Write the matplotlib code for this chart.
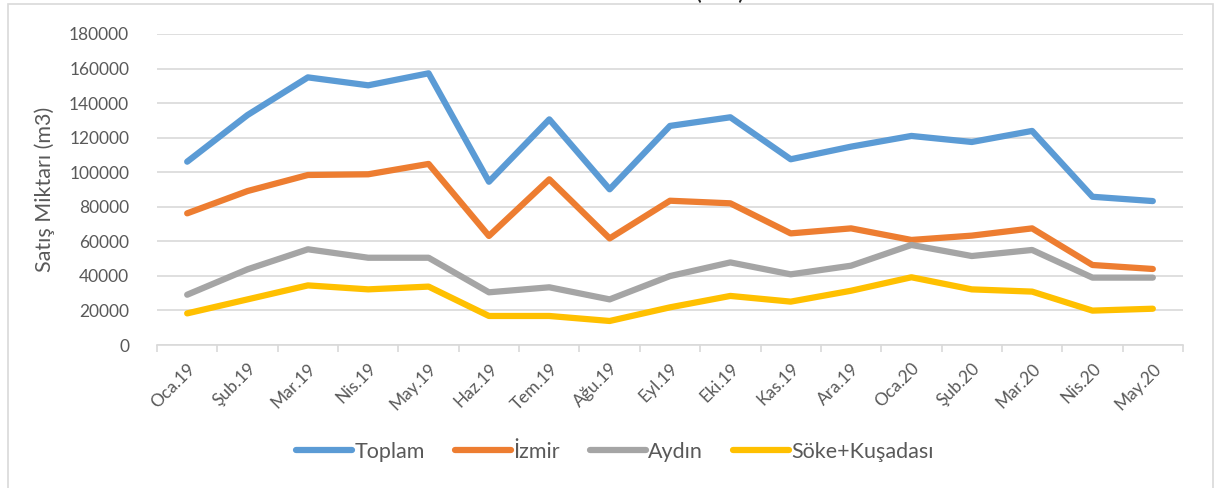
import matplotlib.pyplot as plt
import matplotlib.ticker as mticker
from matplotlib.patches import Rectangle

plt.rcParams.update({
    'font.family': ['Lato', 'DejaVu Sans'],
    'axes.edgecolor': '#D9D9D9',
    'xtick.color': '#595959',
    'ytick.color': '#595959',
    'text.color': '#595959',
})

months = ['Oca.19', 'Şub.19', 'Mar.19', 'Nis.19', 'May.19', 'Haz.19', 'Tem.19',
          'Ağu.19', 'Eyl.19', 'Eki.19', 'Kas.19', 'Ara.19', 'Oca.20', 'Şub.20',
          'Mar.20', 'Nis.20', 'May.20']

toplam = [106100, 133100, 154900, 150300, 157250, 94500, 130600, 90100, 126800,
          131800, 107500, 114800, 121000, 117500, 123900, 85800, 83300]
izmir = [76200, 89100, 98400, 98800, 104800, 63100, 95900, 61700, 83500,
         82000, 64600, 67500, 60800, 63300, 67500, 46300, 44000]
aydin = [29100, 43800, 55400, 50500, 50500, 30500, 33400, 26400, 39900,
         47800, 40900, 45900, 57900, 51500, 55000, 39000, 39000]
soke = [18300, 26400, 34500, 32200, 33800, 16800, 16800, 13900, 21800,
        28400, 25100, 31400, 39200, 32200, 30900, 19900, 21000]

series = [
    ('Toplam', toplam, '#5B9BD5'),
    ('İzmir', izmir, '#ED7D31'),
    ('Aydın', aydin, '#A5A5A5'),
    ('Söke+Kuşadası', soke, '#FFC000'),
]

fig = plt.figure(figsize=(12.15, 4.88), dpi=100)
ax = fig.add_axes([157 / 1215, 1 - 345 / 488, (1183 - 157) / 1215, (345 - 34) / 488])

# chart border and the title, which is mostly cut off at the top edge
fig.patches.append(Rectangle((8 / 1215, -0.1), (1213 - 8) / 1215, 1.1 - 4.5 / 488,
                             transform=fig.transFigure, fill=False,
                             edgecolor='#D9D9D9', linewidth=1.2))
fig.text(720 / 1215, 1 + 1 / 488, '(m3)', ha='center', va='baseline',
         fontsize=19, color='#262626')

x = list(range(len(months)))
for name, vals, color in series:
    ax.plot(x, vals, color=color, linewidth=4.5, label=name,
            solid_capstyle='round', solid_joinstyle='round')

ax.set_xlim(-0.5, len(months) - 0.5)
ax.set_ylim(0, 180000)
ax.yaxis.set_major_locator(mticker.MultipleLocator(20000))
ax.grid(axis='y', color='#D9D9D9', linewidth=1.2)
ax.set_axisbelow(True)
for s in ['top', 'right', 'left']:
    ax.spines[s].set_visible(False)
ax.spines['bottom'].set_linewidth(1.2)

# tick marks between categories, labels on categories
ax.set_xticks([i - 0.5 for i in range(len(months) + 1)])
ax.set_xticklabels([])
ax.tick_params(axis='x', which='major', length=5, color='#D9D9D9', width=1.2)
ax.set_xticks(x, minor=True)
ax.set_xticklabels(months, minor=True, rotation=45, ha='right',
                   rotation_mode='anchor', fontsize=12.5)
ax.tick_params(axis='x', which='minor', length=0, pad=11)
ax.tick_params(axis='y', length=0, pad=20, labelsize=12.5)

ax.set_ylabel('Satış Miktarı (m3)', fontsize=15.5, color='#595959', labelpad=10)

fig.legend(loc='center', bbox_to_anchor=(615 / 1215, 1 - 452 / 488), ncol=4,
           frameon=False, fontsize=15.5, handlelength=2.6, handletextpad=0.1,
           columnspacing=1.4)

fig.savefig('out.png', dpi=100)
